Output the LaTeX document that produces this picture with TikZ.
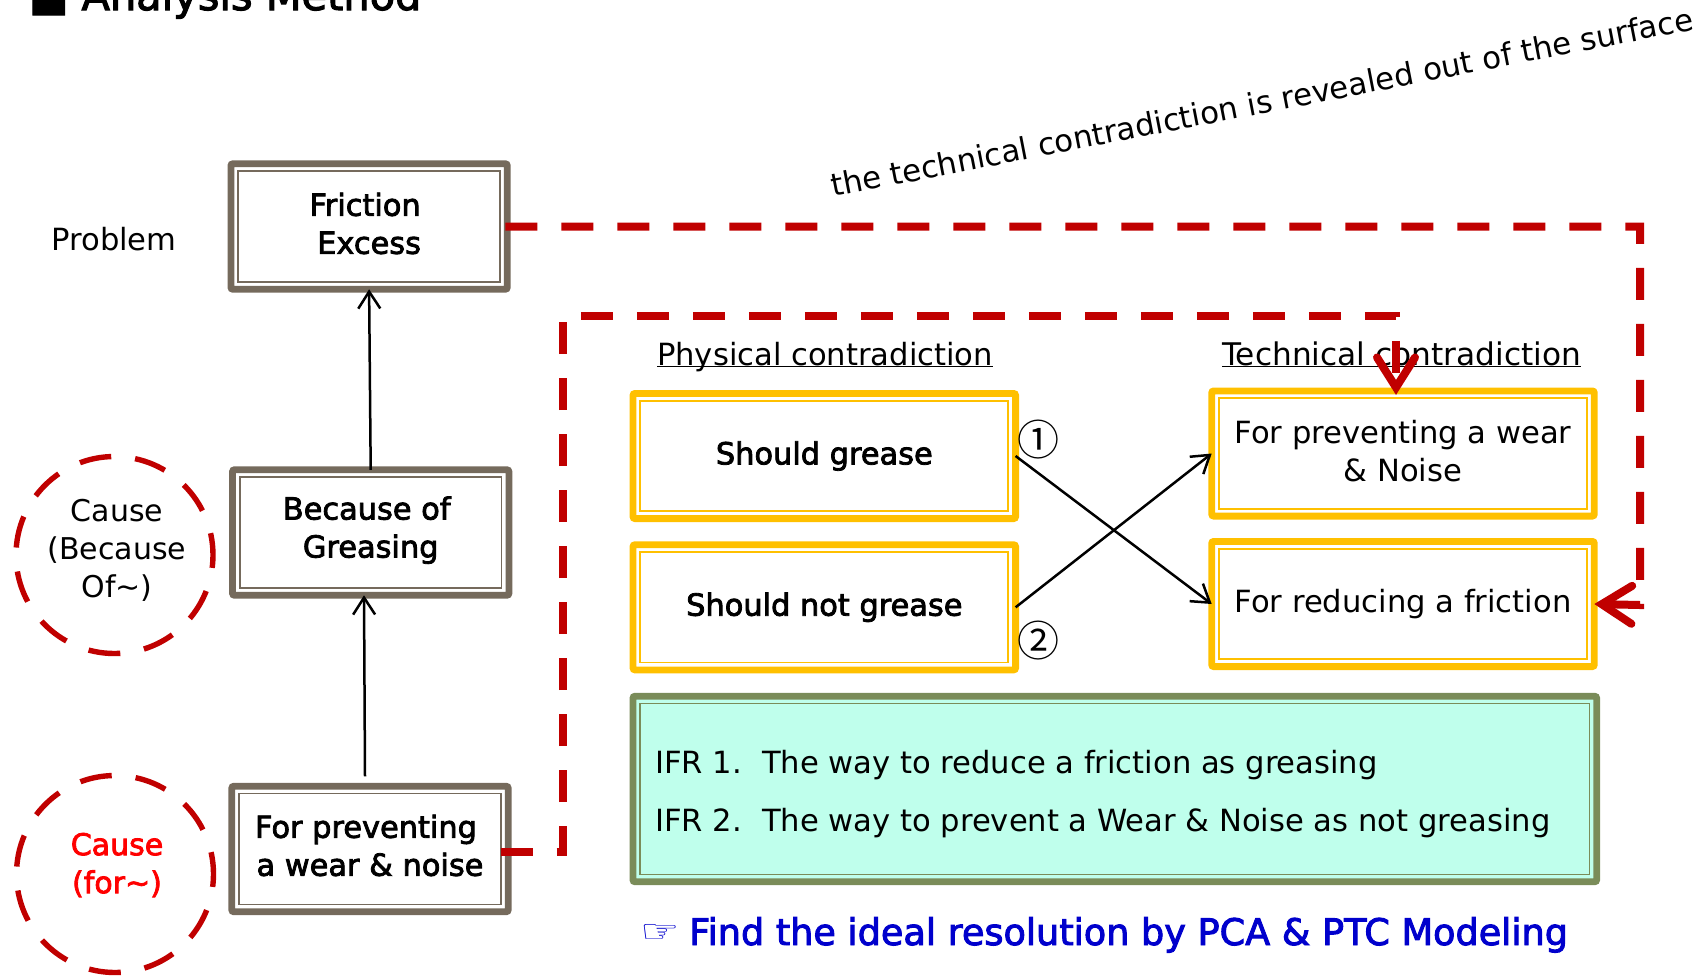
\documentclass[tikz,border=0pt]{standalone}
\usepackage{fontspec}
\setmainfont{DejaVu Sans}
\newfontfamily\boldish[FakeBold=2.6]{DejaVu Sans}
\newfontfamily\cjkfont{Noto Sans CJK SC}
\usetikzlibrary{arrows.meta}
\definecolor{brownf}{HTML}{756A5C}
\definecolor{goldf}{HTML}{FFC000}
\definecolor{greenf}{HTML}{7A8C59}
\definecolor{mint}{HTML}{BFFFEC}
\definecolor{redd}{HTML}{C00000}
\definecolor{bluet}{HTML}{0000CC}
\newcommand{\tsize}[2]{\fontsize{#1}{#2}\selectfont}
\newcommand{\trail}{\hspace{8pt}\mbox{}}
\tikzset{
  dbl/.style={rectangle,rounded corners=2pt,outer sep=0pt,inner sep=0pt,line width=6.8pt,draw=#1,align=center,
    path picture={\draw[draw=#1,line width=1.7pt,rounded corners=0pt]
      ([shift={(7.3pt,-7.3pt)}]path picture bounding box.north west) rectangle ([shift={(-7.3pt,7.3pt)}]path picture bounding box.south east);}},
  cbox/.style={dbl=brownf,fill=white,minimum width=276.4pt,minimum height=125.5pt,font=\boldish\tsize{30.4}{38}},
  ybox/.style={dbl=goldf,fill=white,minimum width=382.6pt,minimum height=125.2pt,font=\tsize{30.6}{38}},
  ybold/.style={ybox,font=\boldish\tsize{30.4}{38}},
  lab/.style={align=center,inner sep=0pt,font=\tsize{30.6}{38}},
  ring/.style={circle,draw=redd,line width=5.4pt,dash pattern=on 32pt off 24pt,dash phase=10pt,minimum size=197pt,inner sep=0pt,outer sep=0pt},
  flow/.style={draw=black,line width=2.5pt,-{Straight Barb[length=17pt,width=22pt,line width=2.5pt]}},
  reddash/.style={draw=redd,line width=8pt,dash pattern=on 32pt off 24pt,
     -{Straight Barb[length=30pt,width=38pt,line width=8pt,line cap=round]}}
}
\begin{document}
\begin{tikzpicture}[x=1pt,y=-1pt]
\useasboundingbox (0,0) rectangle (1707,975);
\clip (0,0) rectangle (1707,975);
\node[anchor=base west,inner sep=0pt,font=\boldish\tsize{41.5}{41.5}] (title) at (29,10) {■ Analysis Method};
\node[cbox,text depth=6.5pt] (friction) at (369.1,226.5) {Friction\trail\\Excess};
\node[cbox,text depth=11pt] (because) at (370.7,532.5) {Because of\trail\\Greasing};
\node[cbox,text depth=7.5pt] (prevent) at (370,849) {For preventing\trail\\a wear \& noise};
\node[lab] (problem) at (114,239) {Problem};
\node[ring] (c1) at (114.5,555) {};
\node[lab,font=\tsize{30}{38}] (c1t) at (117,550) {Cause\\(Because\\Of\textasciitilde)};
\node[ring] (c2) at (115,874) {};
\node[lab,text=red,font=\boldish\tsize{30}{38}] (c2t) at (117,865) {Cause\\(for\textasciitilde)};
\node[lab,anchor=base] (phys) at (825,365) {\underline{\smash{Physical contradiction}}};
\node[lab,anchor=base,font=\tsize{31.2}{38}] (tech) at (1401.5,365) {\underline{\smash{Technical contradiction}}};
\node[ybold] (g1) at (824.3,456) {Should grease};
\node[ybold] (g2) at (824.3,607.3) {Should not grease};
\node[ybox,text depth=5.5pt] (t1) at (1403,453.5) {For preventing a wear\\\& Noise};
\node[ybox] (t2) at (1403,604) {For reducing a friction};
\node[dbl=greenf,fill=mint,minimum width=963.7pt,minimum height=185.5pt] (ifr) at (1114.8,789) {};
\node[lab,anchor=base west] (i1) at (655,773) {IFR 1.\hspace{20pt}The way to reduce a friction as greasing};
\node[lab,anchor=base west] (i2) at (655,831) {IFR 2.\hspace{20pt}The way to prevent a Wear \& Noise as not greasing};
\node[lab,anchor=base west,text=bluet,font=\boldish\tsize{36.6}{36.6}] (find) at (640,945) {\makebox[49pt][l]{\raisebox{3pt}{\scalebox{1}[0.72]{\tsize{44}{44}\rmfamily ☞}}}Find the ideal resolution by PCA \& PTC Modeling};
\node[lab,rotate=11,anchor=base west,font=\tsize{30.9}{38}] (sur) at (833,197) {the technical contradiction is revealed out of the surface};
\node[lab,font=\cjkfont\tsize{42}{42}] (n1) at (1038,440) {①};
\node[lab,font=\cjkfont\tsize{42}{42}] (n2) at (1038,641) {②};
\draw[flow] (because.north) -- (friction.south);
\draw[flow] ([xshift=-5pt,yshift=10pt]prevent.north) -- (because.south -| 364,0);
\draw[flow] (g1.east) -- (t2.west);
\draw[flow] (g2.east) -- (t1.west);
\draw[reddash] ([xshift=-2pt]friction.east) -- (1640,226.5) -- (1640,605) -- (t2.east);
\draw[reddash] ([xshift=-7.6pt,yshift=-2.7pt]prevent.east) -- (563,851.7) -- (563,316) -- (1396,316) -- ([yshift=-4pt]t1.north -| 1396,0);
\end{tikzpicture}
\end{document}
